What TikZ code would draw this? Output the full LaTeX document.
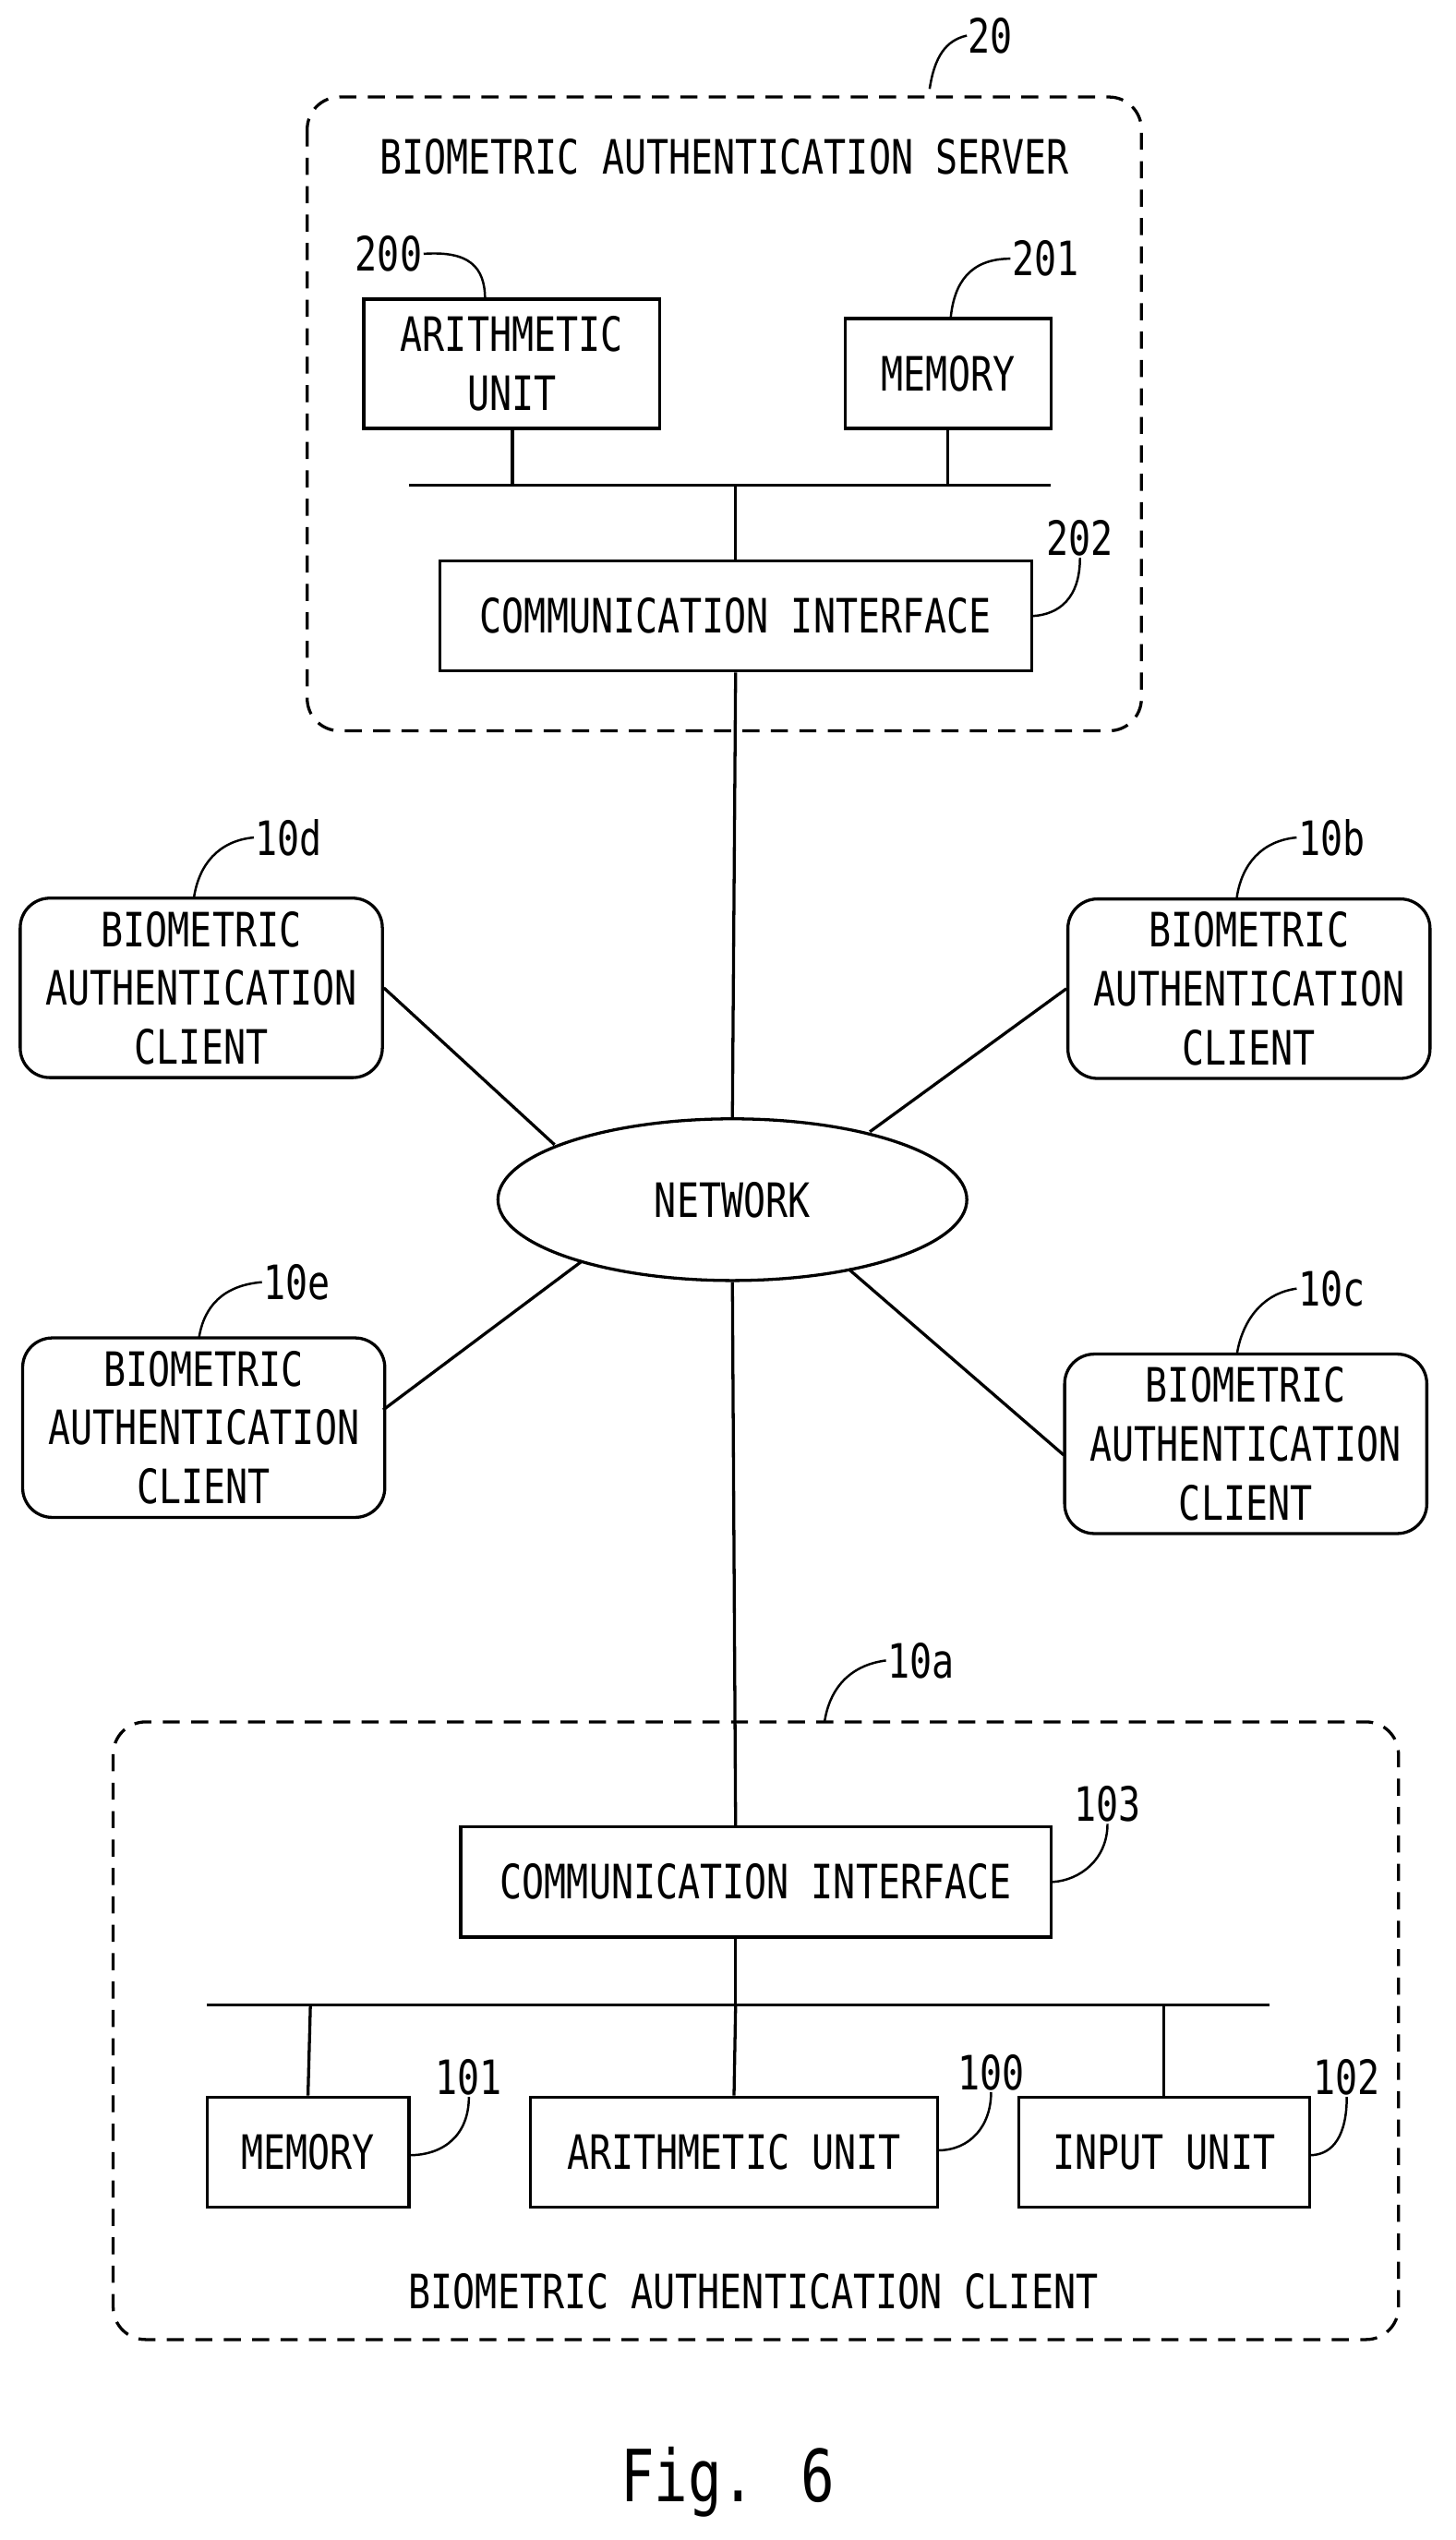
\documentclass[tikz,border=0pt]{standalone}
\usepackage{fontspec}
\setmainfont[FakeStretch=0.78]{DejaVu Sans Mono}
\usetikzlibrary{shapes.geometric}
\begin{document}
\begin{tikzpicture}[x=0.03cm,y=-0.03cm,line width=1.6pt,
  every node/.style={font=\fontsize{25}{31}\selectfont,align=center,inner sep=0},
  box/.style={draw,minimum width=#1*0.03cm},
  dbox/.style={draw,dashed,dash pattern=on 9pt off 6pt,rounded corners=0.6cm},
  lead/.style={line width=1.2pt},
  lbl/.style={anchor=west}]
\useasboundingbox (0,0) rectangle (900,1571);
% server
\draw[dbox] (190,60) rectangle (706,452);
\node (st) at (448,97) {BIOMETRIC AUTHENTICATION SERVER};
\node (n20) [lbl] at (598,22) {20};
\draw[lead] (575,55) .. controls (578,35) and (585,25) .. (n20.west);
\node[draw,minimum width=183*0.03cm,minimum height=80*0.03cm] (au) at (316.5,225) {ARITHMETIC\\UNIT};
\node (n200) [anchor=east] at (262,157) {200};
\draw[lead] (n200.east) .. controls (290,155) and (300,165) .. (300,185);
\node[draw,minimum width=127*0.03cm,minimum height=68*0.03cm] (mem) at (586.5,231) {MEMORY};
\node (n201) [lbl] at (625,160) {201};
\draw[lead] (588,197) .. controls (590,175) and (600,160) .. (n201.west);
\coordinate (b1) at (253,300); \coordinate (b2) at (650,300);
\draw (b1) -- (b2);
\draw (317,265) -- (317,300);
\draw (586,265) -- (586,300);
\node[draw,minimum width=366*0.03cm,minimum height=68*0.03cm] (ci) at (455,381) {COMMUNICATION INTERFACE};
\draw (455,300) -- (ci.north);
\node (n202) [anchor=south] at (668,345) {202};
\draw[lead] (ci.east) ++(0,0) .. controls (655,380) and (668,370) .. (n202.south);
% network
\node[draw,ellipse,minimum width=290*0.03cm,minimum height=100*0.03cm] (net) at (453,742) {NETWORK};
\draw (ci.south) -- (net.north);
% clients
\tikzset{cl/.style={draw,rounded corners=0.55cm,minimum width=224*0.03cm,minimum height=111*0.03cm}}
\node[cl] (cd) at (124.5,611) {BIOMETRIC\\AUTHENTICATION\\CLIENT};
\node[cl] (cb) at (772.5,611.5) {BIOMETRIC\\AUTHENTICATION\\CLIENT};
\node[cl] (ce) at (126,883) {BIOMETRIC\\AUTHENTICATION\\CLIENT};
\node[cl] (cc) at (770.5,893) {BIOMETRIC\\AUTHENTICATION\\CLIENT};
\node (l10d) [lbl] at (157,518) {10d};
\node (l10b) [lbl] at (802,518) {10b};
\node (l10e) [lbl] at (162,793) {10e};
\node (l10c) [lbl] at (802,797) {10c};
\draw[lead] (120,555) .. controls (123,535) and (135,520) .. (l10d.west);
\draw[lead] (765,555) .. controls (768,535) and (780,520) .. (l10b.west);
\draw[lead] (123,828) .. controls (126,808) and (138,795) .. (l10e.west);
\draw[lead] (765,838) .. controls (768,818) and (780,800) .. (l10c.west);
\draw (cd.east) -- (343,708);
\draw (cb.west) -- (538,700);
\draw (237,872) -- (360,780);
\draw (658,900) -- (525,785);
% client 10a
\draw[dbox] (70,1065) rectangle (865,1447);
\node (l10a) [lbl] at (548,1027) {10a};
\draw[lead] (510,1065) .. controls (513,1045) and (525,1030) .. (l10a.west);
\node[draw,minimum width=365*0.03cm,minimum height=68*0.03cm] (ci2) at (467.5,1164) {COMMUNICATION INTERFACE};
\draw (net.south) -- (455,1130);
\node (n103) [anchor=south] at (685,1128) {103};
\draw[lead] (ci2.east) .. controls (668,1163) and (685,1150) .. (n103.south);
\draw (128,1240) -- (785,1240);
\draw (455,1198) -- (455,1240);
\node[draw,minimum width=125*0.03cm,minimum height=68*0.03cm] (m2) at (190.5,1331) {MEMORY};
\node[draw,minimum width=252*0.03cm,minimum height=68*0.03cm] (a2) at (454,1331) {ARITHMETIC UNIT};
\node[draw,minimum width=180*0.03cm,minimum height=68*0.03cm] (iu) at (720,1331) {INPUT UNIT};
\draw (192,1240) -- (m2.north);
\draw (455,1240) -- (a2.north);
\draw (720,1240) -- (iu.north);
\node (n101) [anchor=south] at (290,1297) {101};
\node (n100) [anchor=south] at (613,1294) {100};
\node (n102) [anchor=south] at (833,1297) {102};
\draw[lead] (253,1333) .. controls (275,1333) and (290,1320) .. (n101.south);
\draw[lead] (580,1330) .. controls (600,1330) and (613,1315) .. (n100.south);
\draw[lead] (810,1333) .. controls (825,1333) and (833,1320) .. (n102.south);
\node (ct) at (466,1417) {BIOMETRIC AUTHENTICATION CLIENT};
\node[font=\fontsize{38}{44}\selectfont] (fig) at (450,1535) {Fig. 6};
\end{tikzpicture}
\end{document}
